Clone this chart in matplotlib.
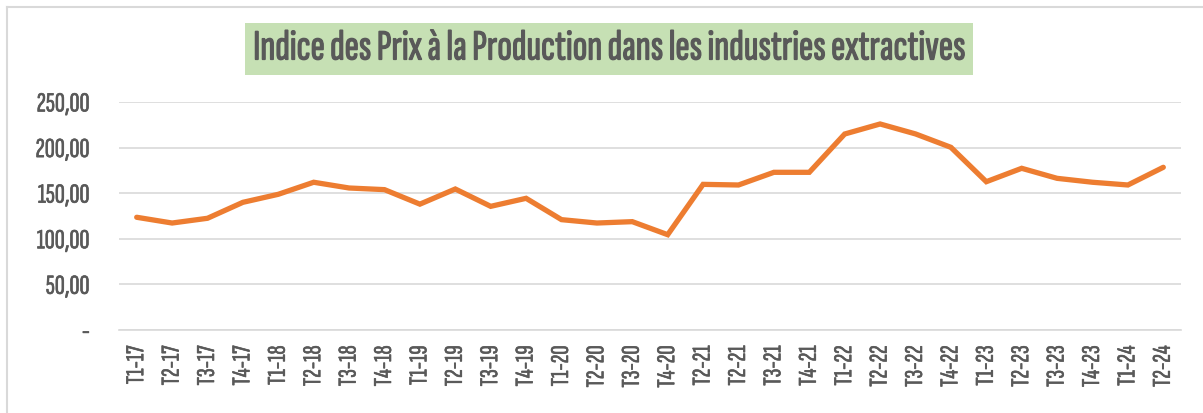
import matplotlib.pyplot as plt
import matplotlib.patheffects as pe
from matplotlib.lines import Line2D
from matplotlib.ticker import FuncFormatter

labels = ['T1-17', 'T2-17', 'T3-17', 'T4-17', 'T1-18', 'T2-18', 'T3-18', 'T4-18',
          'T1-19', 'T2-19', 'T3-19', 'T4-19', 'T1-20', 'T2-20', 'T3-20', 'T4-20',
          'T2-21', 'T2-21', 'T3-21', 'T4-21', 'T1-22', 'T2-22', 'T3-22', 'T4-22',
          'T1-23', 'T2-23', 'T3-23', 'T4-23', 'T1-24', 'T2-24']
values = [123.6, 117.3, 122.5, 140.0, 148.8, 162.0, 155.7, 153.9,
          138.0, 154.6, 135.6, 144.4, 121.0, 117.3, 118.8, 104.5,
          159.7, 159.0, 172.9, 172.9, 214.9, 225.9, 215.0, 200.3,
          162.6, 177.3, 166.3, 162.0, 159.0, 178.4]

title = 'Indice des Prix à la Production dans les industries extractives'
font = ['Sofia Sans Extra Condensed', 'Sofia Sans Condensed', 'DejaVu Sans']
grey = '#595959'
bold = [pe.withStroke(linewidth=0.9, foreground=grey)]
semi = [pe.withStroke(linewidth=0.45, foreground=grey)]

fig = plt.figure(figsize=(12.03, 4.14), dpi=100)
ax = fig.add_axes([119 / 1203, 1 - 331 / 414, 1062 / 1203, 228 / 414])

x = range(len(values))
ax.plot(x, values, color='#ED7D31', linewidth=3.8, solid_capstyle='round',
        solid_joinstyle='miter', zorder=3)

ax.set_xlim(-0.5, len(values) - 0.5)
ax.set_ylim(0, 250)
ax.set_yticks([0, 50, 100, 150, 200, 250])


def fr(v, pos):
    if v == 0:
        return '-'
    return f'{v:.2f}'.replace('.', ',')


ax.yaxis.set_major_formatter(FuncFormatter(fr))
ax.set_xticks(list(x))
ax.set_xticklabels(labels, rotation=90)

ax.grid(axis='y', color='#D9D9D9', linewidth=1.2)
ax.set_axisbelow(True)
for s in ['top', 'right', 'left']:
    ax.spines[s].set_visible(False)
ax.spines['bottom'].set_color('#D9D9D9')
ax.spines['bottom'].set_linewidth(1.2)
ax.tick_params(length=0, colors=grey)
ax.tick_params(axis='y', pad=21)
ax.tick_params(axis='x', pad=11)
for t in ax.get_yticklabels():
    t.set_family(font)
    t.set_fontsize(20)
    t.set_path_effects(semi)
for t in ax.get_xticklabels():
    t.set_family(font)
    t.set_fontsize(18.5)
    t.set_path_effects(semi)

# title in green box
fig.text(609 / 1203, 1 - 50 / 414, title, ha='center', va='center',
         family=font, fontsize=31, color=grey, path_effects=bold,
         bbox=dict(boxstyle='square,pad=0.18', facecolor='#C6E0B4', edgecolor='none'))

# chart frame (left and top edges visible)
fig.add_artist(Line2D([7 / 1203, 7 / 1203], [0, 1 - 8 / 414], transform=fig.transFigure,
                      color='#D9D9D9', linewidth=1.5))
fig.add_artist(Line2D([7 / 1203, 1], [1 - 8 / 414, 1 - 8 / 414], transform=fig.transFigure,
                      color='#D9D9D9', linewidth=1.5))

fig.savefig('out.png', dpi=100)
